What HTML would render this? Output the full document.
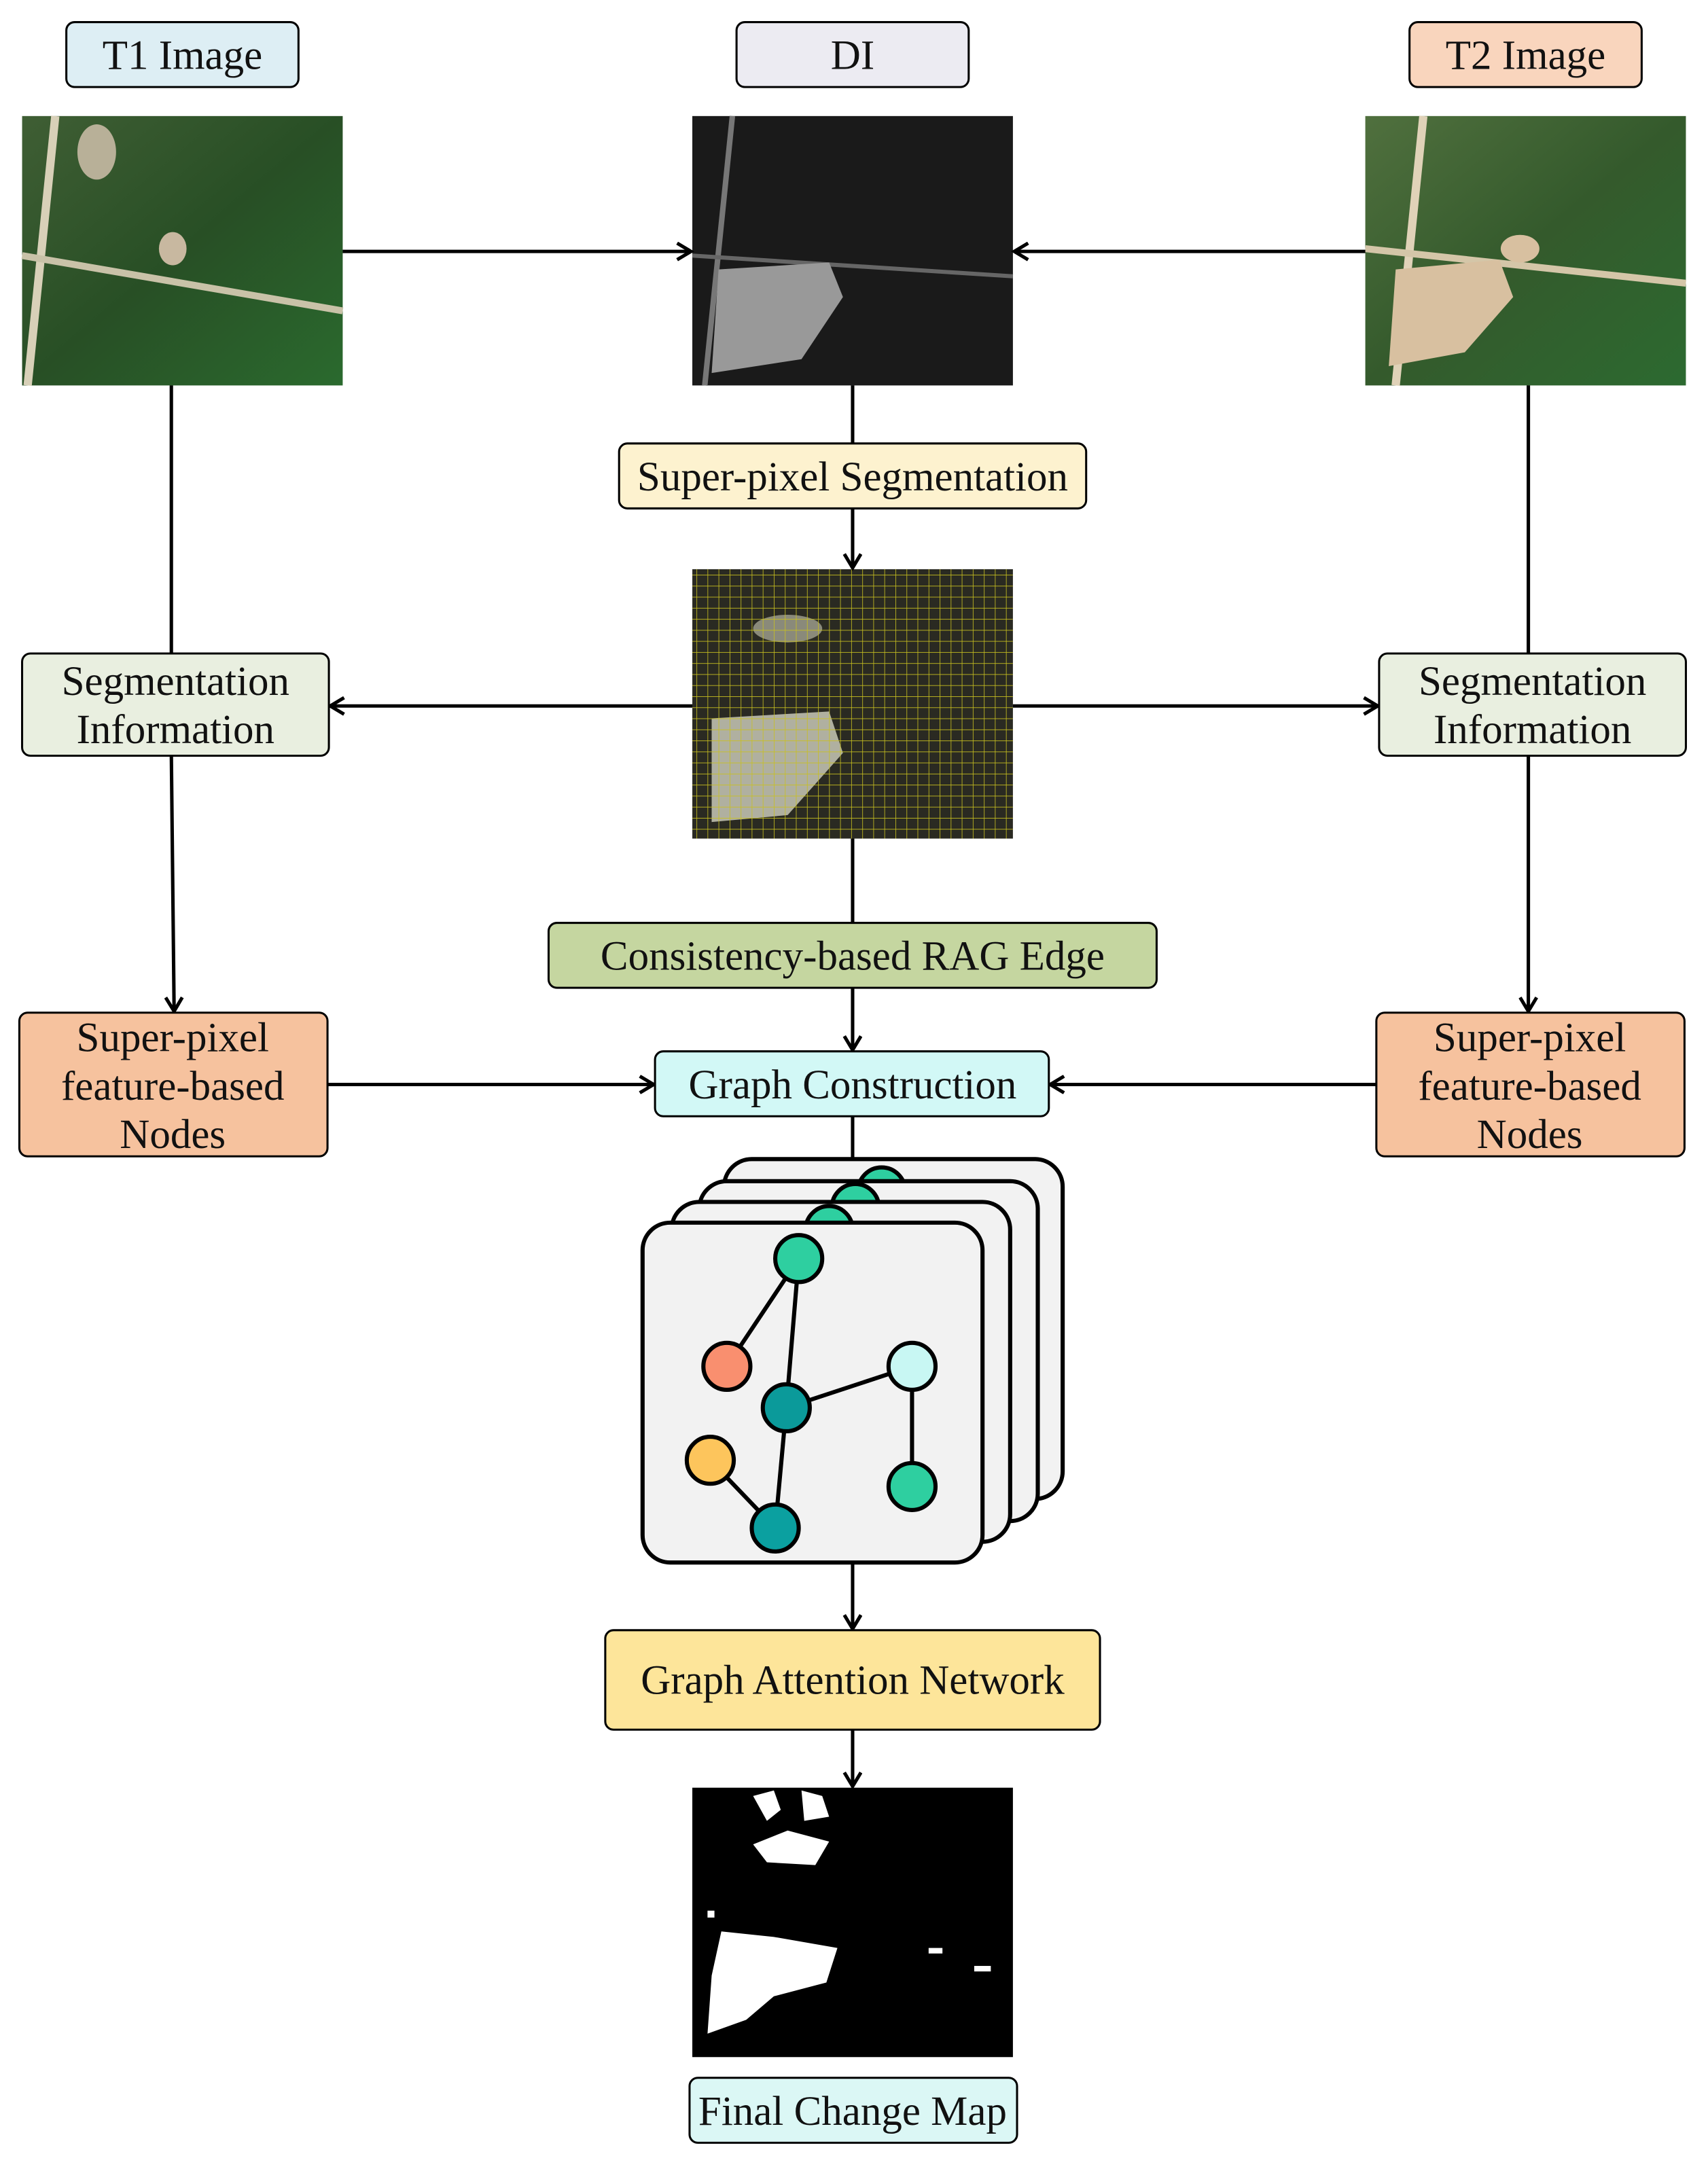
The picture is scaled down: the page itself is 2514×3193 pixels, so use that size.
<!DOCTYPE html>
<html><head><meta charset="utf-8"><style>
html,body{margin:0;padding:0;background:#fff;}
svg{display:block;}
text{font-family:"Liberation Serif",serif;font-size:30px;fill:#111;}
</style></head><body>
<svg width="2514" height="3193" viewBox="0 0 1236 1570" preserveAspectRatio="none" xmlns="http://www.w3.org/2000/svg">
<defs>
<marker id="a" markerWidth="14" markerHeight="14" refX="11" refY="7" orient="auto" markerUnits="userSpaceOnUse">
<path d="M1,1 L11,7 L1,13" fill="none" stroke="#000" stroke-width="2.5"/></marker>
<linearGradient id="g1" x1="0" y1="0" x2="1" y2="1"><stop offset="0" stop-color="#3f5e34"/><stop offset="0.5" stop-color="#284f25"/><stop offset="1" stop-color="#2a6a2e"/></linearGradient>
<linearGradient id="g2" x1="0" y1="0" x2="1" y2="1"><stop offset="0" stop-color="#50703e"/><stop offset="0.5" stop-color="#345a2c"/><stop offset="1" stop-color="#2c6a30"/></linearGradient>
<pattern id="grid" width="8" height="8" patternUnits="userSpaceOnUse"><path d="M8,0 L0,0 0,8" fill="none" stroke="#c8c020" stroke-width="0.8"/></pattern>
</defs>
<g stroke="#000" stroke-width="1.5">
<rect x="48" y="16" width="168" height="47" rx="6" fill="#ddeef4"/>
<rect x="533" y="16" width="168" height="47" rx="6" fill="#ecebf2"/>
<rect x="1020" y="16" width="168" height="47" rx="6" fill="#f9d5bd"/>
</g>
<text x="132" y="50" text-anchor="middle">T1 Image</text>
<text x="617" y="50" text-anchor="middle">DI</text>
<text x="1104" y="50" text-anchor="middle">T2 Image</text>
<rect x="16" y="84" width="232" height="195" fill="url(#g1)"/>
<path d="M40,84 L20,279" stroke="#d8d0b8" stroke-width="6"/>
<path d="M16,185 L248,225" stroke="#c9c2a8" stroke-width="5"/>
<ellipse cx="125" cy="180" rx="10" ry="12" fill="#c8b8a0"/>
<ellipse cx="70" cy="110" rx="14" ry="20" fill="#b8b098"/>
<rect x="501" y="84" width="232" height="195" fill="#1a1a1a"/>
<path d="M530,84 L510,279" stroke="#777" stroke-width="4"/>
<path d="M501,185 L733,200" stroke="#666" stroke-width="3"/>
<path d="M520,195 L600,190 L610,215 L580,260 L515,270 Z" fill="#999"/>
<rect x="988" y="84" width="232" height="195" fill="url(#g2)"/>
<path d="M1030,84 L1010,279" stroke="#e0d2b8" stroke-width="6"/>
<path d="M988,180 L1220,205" stroke="#d4c6a8" stroke-width="5"/>
<path d="M1010,195 L1085,188 L1095,215 L1060,255 L1005,265 Z" fill="#d8c0a0"/>
<ellipse cx="1100" cy="180" rx="14" ry="10" fill="#d8c0a0"/>
<rect x="501" y="412" width="232" height="195" fill="#2a2a22"/>
<path d="M515,520 L600,515 L610,545 L570,590 L515,595 Z" fill="#b0b0a0"/>
<ellipse cx="570" cy="455" rx="25" ry="10" fill="#8a8a7a"/>
<rect x="501" y="412" width="232" height="195" fill="url(#grid)"/>
<rect x="501" y="1294" width="232" height="195" fill="#000"/>
<g fill="#fff">
<path d="M545,1300 L560,1296 L565,1310 L555,1318 Z"/><path d="M580,1296 L595,1300 L600,1315 L582,1318 Z"/>
<path d="M545,1335 L570,1325 L600,1333 L590,1350 L555,1348 Z"/>
<path d="M522,1398 L560,1402 L606,1410 L598,1435 L560,1445 L540,1462 L512,1472 L515,1430 Z"/>
<rect x="512" y="1383" width="5" height="5"/><rect x="672" y="1410" width="10" height="4"/><rect x="705" y="1423" width="12" height="4"/>
</g>
<g stroke="#000" stroke-width="2.5" fill="none">
<line x1="248" y1="182" x2="500" y2="182" marker-end="url(#a)"/>
<line x1="988" y1="182" x2="734" y2="182" marker-end="url(#a)"/>
<line x1="617" y1="279" x2="617" y2="321"/>
<line x1="617" y1="368" x2="617" y2="411" marker-end="url(#a)"/>
<line x1="124" y1="279" x2="124" y2="473"/>
<line x1="1106" y1="279" x2="1106" y2="473"/>
<line x1="501" y1="511" x2="239" y2="511" marker-end="url(#a)"/>
<line x1="733" y1="511" x2="997" y2="511" marker-end="url(#a)"/>
<line x1="124" y1="547" x2="126" y2="732" marker-end="url(#a)"/>
<line x1="1106" y1="547" x2="1106" y2="732" marker-end="url(#a)"/>
<line x1="617" y1="607" x2="617" y2="668"/>
<line x1="617" y1="715" x2="617" y2="760" marker-end="url(#a)"/>
<line x1="237" y1="785" x2="473" y2="785" marker-end="url(#a)"/>
<line x1="996" y1="785" x2="760" y2="785" marker-end="url(#a)"/>
<line x1="617" y1="808" x2="617" y2="845"/>
<line x1="617" y1="1131" x2="617" y2="1179" marker-end="url(#a)"/>
<line x1="617" y1="1252" x2="617" y2="1293" marker-end="url(#a)"/>
</g>
<g stroke="#000" stroke-width="1.5">
<rect x="448" y="321" width="338" height="47" rx="6" fill="#fdf2cf"/>
<rect x="16" y="473" width="222" height="74" rx="6" fill="#e9efe0"/>
<rect x="998" y="473" width="222" height="74" rx="6" fill="#e9efe0"/>
<rect x="397" y="668" width="440" height="47" rx="6" fill="#c5d6a0"/>
<rect x="14" y="733" width="223" height="104" rx="6" fill="#f6c29e"/>
<rect x="996" y="733" width="223" height="104" rx="6" fill="#f6c29e"/>
<rect x="474" y="761" width="285" height="47" rx="6" fill="#d2f8f6"/>
<rect x="438" y="1180" width="358" height="72" rx="6" fill="#fde59a"/>
<rect x="499" y="1504" width="237" height="47" rx="6" fill="#dbf7f5"/>
</g>
<text x="617" y="355" text-anchor="middle">Super-pixel Segmentation</text>
<text x="127" y="503" text-anchor="middle">Segmentation</text>
<text x="127" y="538" text-anchor="middle">Information</text>
<text x="1109" y="503" text-anchor="middle">Segmentation</text>
<text x="1109" y="538" text-anchor="middle">Information</text>
<text x="617" y="702" text-anchor="middle">Consistency-based RAG Edge</text>
<text x="125" y="761" text-anchor="middle">Super-pixel</text>
<text x="125" y="796" text-anchor="middle">feature-based</text>
<text x="125" y="831" text-anchor="middle">Nodes</text>
<text x="1107" y="761" text-anchor="middle">Super-pixel</text>
<text x="1107" y="796" text-anchor="middle">feature-based</text>
<text x="1107" y="831" text-anchor="middle">Nodes</text>
<text x="617" y="795" text-anchor="middle">Graph Construction</text>
<text x="617" y="1226" text-anchor="middle">Graph Attention Network</text>
<text x="617" y="1538" text-anchor="middle">Final Change Map</text>
<g stroke="#000" stroke-width="3">
<rect x="524" y="839" width="245" height="246" rx="20" fill="#f2f2f2"/>
<circle cx="638" cy="862" r="17" fill="#2ecfa0"/>
<rect x="506" y="855" width="245" height="246" rx="20" fill="#f2f2f2"/>
<circle cx="619" cy="874" r="17" fill="#2ecfa0"/>
<rect x="486" y="870" width="245" height="246" rx="20" fill="#f2f2f2"/>
<circle cx="600" cy="890" r="17" fill="#2ecfa0"/>
<rect x="465" y="885" width="246" height="246" rx="20" fill="#f2f2f2"/>
<line x1="578" y1="911" x2="526" y2="989"/>
<line x1="578" y1="911" x2="569" y2="1019"/>
<line x1="569" y1="1019" x2="660" y2="989"/>
<line x1="569" y1="1019" x2="561" y2="1106"/>
<line x1="514" y1="1057" x2="561" y2="1106"/>
<line x1="660" y1="989" x2="660" y2="1076"/>
<circle cx="578" cy="911" r="17" fill="#2ecfa0"/>
<circle cx="526" cy="989" r="17" fill="#f98f6f"/>
<circle cx="569" cy="1019" r="17" fill="#0b9a9a"/>
<circle cx="660" cy="989" r="17" fill="#c8f7f3"/>
<circle cx="514" cy="1057" r="17" fill="#fdc55c"/>
<circle cx="561" cy="1106" r="17" fill="#0ba0a0"/>
<circle cx="660" cy="1076" r="17" fill="#2ecfa0"/>
</g>
</svg>
</body></html>
